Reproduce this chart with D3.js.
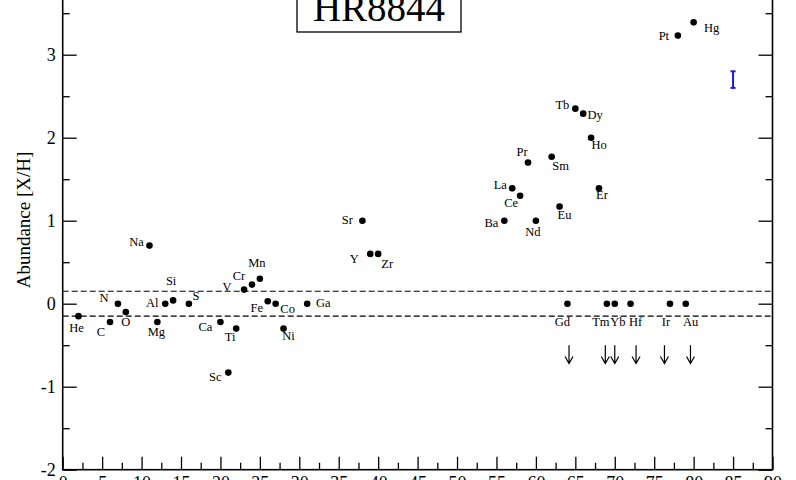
<!DOCTYPE html>
<html>
<head>
<meta charset="utf-8">
<script src="https://cdn.jsdelivr.net/npm/d3@7"></script>
<style>
  html, body { margin: 0; padding: 0; background: #fff; }
  svg { display: block; font-family: "Liberation Serif", "DejaVu Serif", serif; }
</style>
</head>
<body>
<div id="container"></div>
<script>
const width = 796;
const height = 480;

// data
const elements = ["He", "C", "N", "O", "Na", "Mg", "Al", "Si", "S", "Ca", "Sc", "Ti", "V", "Cr", "Mn", "Fe", "Co", "Ni", "Ga",
    "Sr", "Y", "Zr", "Ba", "La", "Ce", "Pr", "Nd", "Sm", "Eu", "Gd", "Tb", "Dy", "Ho", "Er", "Tm", "Yb", "Hf", "Ir", "Pt", "Au", "Hg"];
const atomicNumber = [2, 6, 7, 8, 11, 12, 13, 14, 16, 20, 21, 22, 23, 24, 25, 26, 27, 28, 31,
    38, 39, 40, 56, 57, 58, 59, 60, 62, 63, 64, 65, 66, 67, 68, 69, 70, 72, 77, 78, 79, 80];
const abundance = [-0.15, -0.22, 0, -0.1, 0.7, -0.22, 0, 0.04, 0, -0.22, -0.83, -0.3, 0.17, 0.23, 0.3, 0.03, 0, -0.3, 0,
    1.0, 0.6, 0.6, 1.0, 1.39, 1.3, 1.7, 1.0, 1.77, 1.17, 0, 2.35, 2.29, 2.0, 1.39, 0, 0, 0, 0, 3.23, 0, 3.39];

// upper limits (arrows)
const limitElements = ["Gd", "Tm", "Yb", "Hf", "Ir", "Au"];
const arrowZ = [64.2, 68.8, 70.0, 72.7, 76.3, 79.6];
const arrowFrom = -0.5;
const arrowTo = -0.72;

// solar band and typical error
const bandLimits = [0.15, -0.15];
const errZ = 85;
const errValue = 2.7;
const errHalf = 0.1;

const xTicks = d3.range(0, 91, 5);
const xMinor = d3.range(2.5, 90, 5);
const yTicks = [-2, -1, 0, 1, 2, 3, 4];
const yMinor = [-1.5, -0.5, 0.5, 1.5, 2.5, 3.5];

// label offsets in px (dx, dy from dot center to text baseline)
const labelOffset = {
    He: [-2, 16], C: [-9, 14], N: [-14, -2], O: [0, 14], Na: [-13, 0], Mg: [-1, 14], Al: [-13, 3],
    Si: [-2, -15], S: [7, -4], Ca: [-15, 9], Sc: [-13, 8], Ti: [-6, 12], V: [-17, 1], Cr: [-13, -5],
    Mn: [-3, -12], Fe: [-11, 11], Co: [12, 9], Ni: [5, 11], Ga: [16, 3], Sr: [-15, 3], Y: [-16, 9],
    Zr: [9, 14], Ba: [-13, 6], La: [-12, 1], Ce: [-9, 11], Pr: [-6, -7], Nd: [-3, 15], Sm: [9, 13],
    Eu: [5, 12], Gd: [-5, 22], Tb: [-13, 0], Dy: [12, 5], Ho: [8, 11], Er: [3, 11], Tm: [-6, 22],
    Yb: [3, 22], Hf: [5, 22], Ir: [-4, 22], Pt: [-14, 4], Au: [5, 22], Hg: [18, 10]
};

const svg = d3.select("#container")
    .append("svg")
    .attr("width", width)
    .attr("height", height)
    .attr("viewBox", [0, 0, width, height]);

const x = d3.scaleLinear().domain([0, 90]).range([62.7, 772.5]);
const y = d3.scaleLinear().domain([-2, 4]).range([469.7, 469.7 - 6 * 83]);

const plotLeft = x(0), plotRight = x(90), plotBottom = y(-2), plotTop = y(4);
const fmt = d => String(d);   // plain hyphen minus, like the original

function styleAxis(g) {
    g.select(".domain").remove();
    g.selectAll("line").attr("stroke", "#000").attr("stroke-width", 1.3);
    g.selectAll("text").attr("font-size", 18).attr("fill", "#000")
        .attr("font-family", "Liberation Serif, serif");
}

// bottom axis
svg.append("g")
    .attr("transform", `translate(0,${plotBottom})`)
    .call(d3.axisBottom(x).tickValues(xTicks).tickSize(-13).tickPadding(7).tickFormat(fmt))
    .call(styleAxis);
svg.append("g")
    .attr("transform", `translate(0,${plotBottom})`)
    .call(d3.axisBottom(x).tickValues(xMinor).tickSize(-7).tickFormat(""))
    .call(styleAxis);

// left axis
svg.append("g")
    .attr("transform", `translate(${plotLeft},0)`)
    .call(d3.axisLeft(y).tickValues(yTicks).tickSize(-14).tickPadding(7).tickFormat(fmt))
    .call(styleAxis);
svg.append("g")
    .attr("transform", `translate(${plotLeft},0)`)
    .call(d3.axisLeft(y).tickValues(yMinor).tickSize(-7).tickFormat(""))
    .call(styleAxis);

// right axis
svg.append("g")
    .attr("transform", `translate(${plotRight},0)`)
    .call(d3.axisRight(y).tickValues(yTicks).tickSize(-14).tickFormat(""))
    .call(styleAxis);
svg.append("g")
    .attr("transform", `translate(${plotRight},0)`)
    .call(d3.axisRight(y).tickValues(yMinor).tickSize(-7).tickFormat(""))
    .call(styleAxis);

// frame
svg.append("rect")
    .attr("x", plotLeft)
    .attr("y", plotTop)
    .attr("width", plotRight - plotLeft)
    .attr("height", plotBottom - plotTop)
    .attr("fill", "none")
    .attr("stroke", "#000")
    .attr("stroke-width", 1.6);

// dashed band
svg.append("g")
    .selectAll("line")
    .data(bandLimits)
    .join("line")
    .attr("x1", plotLeft)
    .attr("x2", plotRight)
    .attr("y1", d => y(d))
    .attr("y2", d => y(d))
    .attr("stroke", "#000")
    .attr("stroke-width", 1.2)
    .attr("stroke-dasharray", "6,3");

// points
const points = elements.map((name, i) => ({ name, z: atomicNumber[i], v: abundance[i] }));

svg.append("g")
    .selectAll("circle")
    .data(points)
    .join("circle")
    .attr("cx", d => x(d.z))
    .attr("cy", d => y(d.v))
    .attr("r", 3.3)
    .attr("fill", "#000");

svg.append("g")
    .selectAll("text")
    .data(points)
    .join("text")
    .attr("x", d => x(d.z) + labelOffset[d.name][0])
    .attr("y", d => y(d.v) + labelOffset[d.name][1])
    .attr("text-anchor", "middle")
    .attr("font-size", 12.5)
    .text(d => d.name);

// upper limit arrows
const arrows = svg.append("g")
    .attr("stroke", "#000")
    .attr("stroke-width", 1.2)
    .attr("fill", "none");
arrows.selectAll("path")
    .data(arrowZ)
    .join("path")
    .attr("d", d => {
        const ax = x(d), y0 = y(arrowFrom), y1 = y(arrowTo);
        return `M${ax},${y0}V${y1}M${ax - 4},${y1 - 7}L${ax},${y1}L${ax + 4},${y1 - 7}`;
    });

// typical error bar
const err = svg.append("g")
    .attr("stroke", "#1a1adc")
    .attr("stroke-width", 2);
err.append("line")
    .attr("x1", x(errZ)).attr("x2", x(errZ))
    .attr("y1", y(errValue + errHalf)).attr("y2", y(errValue - errHalf));
[errValue + errHalf, errValue - errHalf].forEach(v => {
    err.append("line")
        .attr("x1", x(errZ) - 2.5).attr("x2", x(errZ) + 2.5)
        .attr("y1", y(v)).attr("y2", y(v));
});

// title box
svg.append("rect")
    .attr("x", 297)
    .attr("y", -10)
    .attr("width", 164)
    .attr("height", 42)
    .attr("fill", "#fff")
    .attr("stroke", "#000")
    .attr("stroke-width", 1.3);
svg.append("text")
    .attr("x", 379)
    .attr("y", 21)
    .attr("text-anchor", "middle")
    .attr("font-size", 39)
    .text("HR8844");

// y label
svg.append("text")
    .attr("transform", "translate(30,220) rotate(-90)")
    .attr("text-anchor", "middle")
    .attr("font-size", 19)
    .text("Abundance [X/H]");
</script>
</body>
</html>
